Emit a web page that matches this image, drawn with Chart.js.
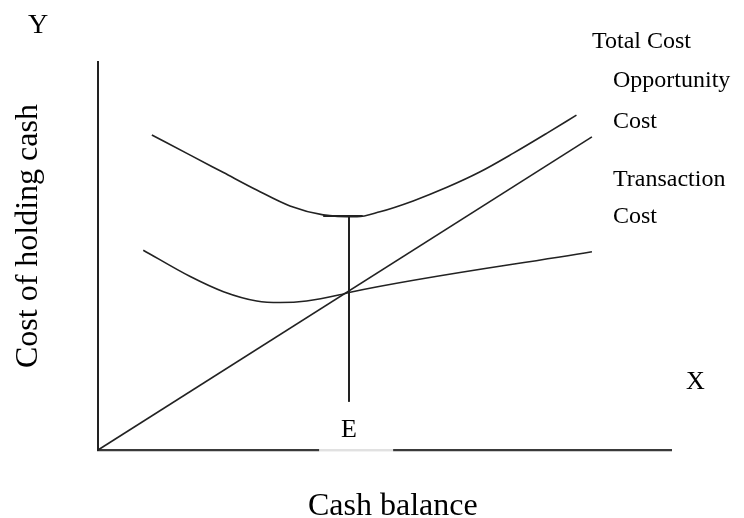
<!DOCTYPE html>
<html>
<head>
<meta charset="utf-8">
<script src="https://cdn.jsdelivr.net/npm/chart.js@4"></script>
<style>
html,body{margin:0;padding:0;background:#fff;}
canvas{display:block;}
</style>
</head>
<body>
<canvas id="c" width="744" height="518"></canvas>
<script>
// Values (units: 0-100 on both axes)
const totalCostX = [9.4, 16.1, 21.9, 27.7, 33.5, 39.3, 45.2, 49.2, 55.0, 60.9, 66.7, 72.5, 78.3, 83.5];
const totalCostY = [81.2, 76.0, 71.5, 67.0, 62.9, 60.6, 60.1, 61.4, 64.2, 67.7, 71.7, 76.5, 81.6, 86.3];
const opportunityX = [0, 86.2];
const opportunityY = [0, 80.7];
const transactionX = [7.9, 16.1, 21.9, 27.7, 31.8, 36.4, 42.2, 43.8, 86.2];
const transactionY = [51.5, 44.7, 40.8, 38.4, 38.0, 38.4, 40.0, 40.6, 51.1];
const optimumX = [43.8, 43.8];
const optimumY = [12.4, 60.3];
const capX = [39.3, 46.2];
const capY = [60.3, 60.3];
const gapX = [38.6, 51.5];
const gapY = [0, 0];

const pts = (xs, ys) => xs.map((x, i) => ({x: x, y: ys[i]}));
const ink = '#222';

const labels = [
  {t: 'Y', x: 28, y: 33, size: 28},
  {t: 'X', x: 686, y: 389, size: 26},
  {t: 'E', x: 341, y: 437, size: 26},
  {t: 'Total Cost', x: 592, y: 48, size: 24},
  {t: 'Opportunity', x: 613, y: 87, size: 24},
  {t: 'Cost', x: 613, y: 128, size: 24},
  {t: 'Transaction', x: 613, y: 186, size: 24},
  {t: 'Cost', x: 613, y: 223, size: 24},
  {t: 'Cash balance', x: 308, y: 515, size: 32}
];

const textPlugin = {
  id: 'texts',
  afterDraw(chart) {
    const ctx = chart.ctx;
    ctx.save();
    ctx.fillStyle = '#000';
    ctx.textBaseline = 'alphabetic';
    ctx.textAlign = 'left';
    labels.forEach(l => {
      ctx.font = l.size + 'px "Liberation Serif", "DejaVu Serif", serif';
      ctx.fillText(l.t, l.x, l.y);
    });
    ctx.translate(37, 368);
    ctx.rotate(-Math.PI / 2);
    ctx.font = '32px "Liberation Serif", "DejaVu Serif", serif';
    ctx.fillText('Cost of holding cash', 0, 0);
    ctx.restore();
  }
};

const lineDs = (label, data, opts) => Object.assign({
  label: label,
  data: data,
  borderColor: ink,
  borderWidth: 1.6,
  pointRadius: 0,
  fill: false,
  showLine: true,
  clip: false
}, opts || {});

new Chart(document.getElementById('c'), {
  type: 'scatter',
  data: {
    datasets: [
      lineDs('Total Cost', pts(totalCostX, totalCostY), {cubicInterpolationMode: 'monotone'}),
      lineDs('Opportunity Cost', pts(opportunityX, opportunityY)),
      lineDs('Transaction Cost', pts(transactionX, transactionY), {cubicInterpolationMode: 'monotone'}),
      lineDs('Optimum', pts(optimumX, optimumY), {borderWidth: 2}),
      lineDs('Cap', pts(capX, capY), {borderWidth: 2}),
      lineDs('GapWhite', pts(gapX, gapY), {borderColor: '#fff', borderWidth: 3.5}),
      lineDs('Gap', pts(gapX, gapY), {borderColor: '#c4c4c4', borderWidth: 1.2, order: -1})
    ]
  },
  options: {
    responsive: false,
    animation: false,
    events: [],
    layout: {padding: {left: 98, top: 62, right: 73, bottom: 68}},
    plugins: {legend: {display: false}, tooltip: {enabled: false}, title: {display: false}},
    scales: {
      x: {
        type: 'linear', min: 0, max: 100,
        ticks: {display: false},
        grid: {display: true, drawOnChartArea: false, drawTicks: false},
        border: {display: true, color: '#3a3a3a', width: 2.2}
      },
      y: {
        type: 'linear', min: 0, max: 100,
        ticks: {display: false},
        grid: {display: true, drawOnChartArea: false, drawTicks: false},
        border: {display: true, color: '#222', width: 2}
      }
    }
  },
  plugins: [textPlugin]
});
</script>
</body>
</html>
